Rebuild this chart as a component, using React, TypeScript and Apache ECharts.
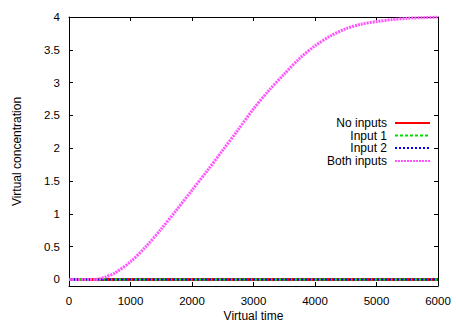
import React, { useEffect, useRef } from "react";
import * as echarts from "echarts";

const timePoints = [0, 250, 450, 500, 600, 750, 1000, 1250, 1500, 1750, 2000, 2250, 2500, 2750, 3000, 3250, 3500, 3750, 4000, 4250, 4500, 4750, 5000, 5250, 5500, 5750, 6000];
const bothInputs = [0, 0, 0, 0.01, 0.04, 0.1, 0.27, 0.5, 0.77, 1.06, 1.36, 1.66, 1.97, 2.28, 2.6, 2.88, 3.13, 3.37, 3.56, 3.71, 3.82, 3.89, 3.93, 3.96, 3.98, 3.99, 4.0];
const noInputs = timePoints.map(() => 0);
const input1 = timePoints.map(() => 0);
const input2 = timePoints.map(() => 0);
const yTicks = [0, 0.5, 1, 1.5, 2, 2.5, 3, 3.5, 4];
const seriesNames = ["No inputs", "Input 1", "Input 2", "Both inputs"];

export default function App() {
  const ref = useRef<HTMLDivElement>(null);
  useEffect(() => {
    if (!ref.current) return;
    const chart = echarts.init(ref.current, null, { renderer: "svg" });
    const font = "Liberation Sans, Arial, sans-serif";
    const pair = (ys: number[]) => timePoints.map((t, i) => [t, ys[i]]);
    const colors = ["#ff0000", "#00dd00", "#0000ff", "#ff55ff"];
    const types: any[] = ["solid", [3, 2], [2, 2], [2, 1]];
    const widths = [3, 2.5, 2, 3];
    const datas = [noInputs, input1, input2, bothInputs];
    const rowsY = [122.5, 135, 147.5, 160.5];
    const axisLine = { show: true, onZero: false, lineStyle: { color: "#000", width: 1 } };
    const tickStyle = { inside: true, length: 4, lineStyle: { color: "#000" } };
    const fmt = (v: number) => String(v);
    chart.setOption({
      animation: false,
      backgroundColor: "#fff",
      grid: { left: 69, right: 18, top: 17, bottom: 37, containLabel: false, outerBoundsMode: "none" },
      legend: seriesNames.map((n, i) => ({
        data: [n],
        orient: "vertical",
        align: "right",
        right: 25,
        top: rowsY[i] - 5.5,
        itemWidth: 35,
        itemHeight: 11,
        padding: 0,
        selectedMode: false,
        itemStyle: { opacity: 0 },
        textStyle: { fontFamily: font, fontSize: 12, lineHeight: 11, color: "#000", padding: [0, 3, 0, 0] },
      })),
      xAxis: [
        {
          type: "value",
          min: 0,
          max: 6000,
          interval: 1000,
          name: "Virtual time",
          nameLocation: "middle",
          nameGap: 24,
          nameMoveOverlap: false,
          nameTextStyle: { fontFamily: font, fontSize: 12, color: "#000", lineHeight: 12 },
          axisLine,
          axisTick: tickStyle,
          axisLabel: { fontFamily: font, fontSize: 11.5, color: "#000", margin: 9, formatter: fmt },
          splitLine: { show: false },
        },
        {
          type: "value",
          position: "top",
          min: 0,
          max: 6000,
          interval: 1000,
          axisLine,
          axisTick: tickStyle,
          axisLabel: { show: false },
          splitLine: { show: false },
        },
      ],
      yAxis: [
        {
          type: "value",
          min: -0.1,
          max: 4,
          name: "Virtual concentration",
          nameLocation: "middle",
          nameGap: 46,
          nameMoveOverlap: false,
          nameTextStyle: { fontFamily: font, fontSize: 12, color: "#000" },
          axisLine,
          axisTick: { ...tickStyle, customValues: yTicks },
          axisLabel: { fontFamily: font, fontSize: 11.5, color: "#000", margin: 9, customValues: yTicks, formatter: fmt },
          splitLine: { show: false },
        },
        {
          type: "value",
          position: "right",
          min: -0.1,
          max: 4,
          axisLine,
          axisTick: { ...tickStyle, customValues: yTicks },
          axisLabel: { show: false, customValues: yTicks },
          splitLine: { show: false },
        },
      ],
      series: seriesNames.map((n, i) => ({
        name: n,
        type: "line",
        data: pair(datas[i]),
        smooth: i === 3 ? 0.3 : false,
        showSymbol: false,
        symbol: "none",
        color: colors[i],
        lineStyle: { color: colors[i], width: widths[i], type: types[i] },
        z: 2 + i,
      })),
    });
    return () => chart.dispose();
  }, []);
  return <div ref={ref} style={{ width: 456, height: 323, position: "absolute", left: 0, top: 0 }} />;
}
